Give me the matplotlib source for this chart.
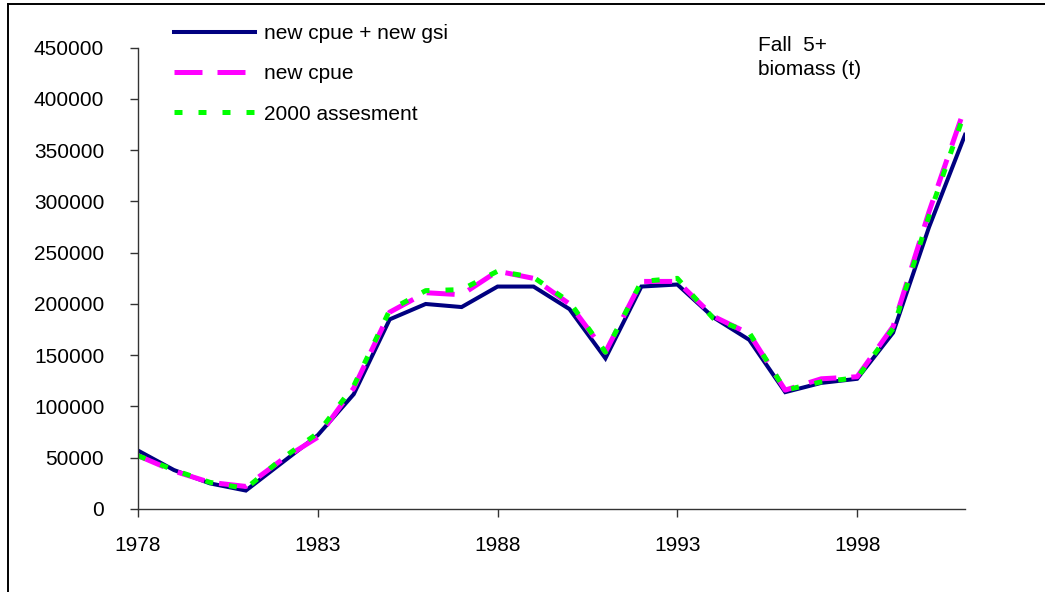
import numpy as np
import matplotlib.pyplot as plt
from matplotlib.lines import Line2D

plt.rcParams['font.family'] = ['Liberation Sans', 'DejaVu Sans']

# --- data ---
years = np.arange(1978, 2002)
new_cpue_gsi = [57000, 38000, 25000, 18000, 45000, 72000, 112000, 185000,
                200000, 197000, 217000, 217000, 195000, 147000, 217000, 219000,
                187000, 165000, 114000, 123000, 127000, 172000, 275000, 365000]
new_cpue = [52000, 37000, 26000, 22000, 48000, 70000, 118000, 192000,
            211000, 209000, 232000, 225000, 200000, 153000, 222000, 222000,
            188000, 171000, 116000, 127000, 129000, 178000, 290000, 392000]
assess_2000 = [52000, 38000, 26000, 20000, 49000, 74000, 120000, 194000,
               213000, 214000, 232000, 226000, 202000, 153000, 222000, 225000,
               186000, 172000, 116000, 124000, 128000, 176000, 286000, 388000]
xticks = [1978, 1983, 1988, 1993, 1998]
yticks = np.arange(0, 450001, 50000)

W, H = 1045, 592
fig = plt.figure(figsize=(W / 100, H / 100), dpi=100)
ax = fig.add_axes([138 / W, 1 - 509 / H, (965 - 138) / W, (509 - 47.7) / H])

ax.plot(years, new_cpue_gsi, color='#000080', lw=2.9, label='new cpue + new gsi',
        solid_joinstyle='miter')
ax.plot(years, new_cpue, color='#ff00ff', lw=3.6, dashes=(5.6, 3.0),
        dash_capstyle='butt', label='new cpue')
ax.plot(years, assess_2000, color='#00ff00', lw=3.6, dashes=(1.6, 3.2),
        dash_capstyle='butt', label='2000 assesment')

ax.set_xlim(1978, 2001)
ax.set_ylim(0, 450000)
ax.set_xticks(xticks)
ax.set_yticks(yticks)
ax.set_yticklabels([str(v) for v in yticks])

for s in ['top', 'right']:
    ax.spines[s].set_visible(False)
for s in ['left', 'bottom']:
    ax.spines[s].set_color('#333333')
    ax.spines[s].set_linewidth(1.0)
ax.tick_params(axis='y', direction='out', length=5.8, width=1.0, color='#333333',
               labelsize=15, pad=18.5)
ax.tick_params(axis='x', direction='out', length=5.8, width=1.0, color='#333333',
               labelsize=15, pad=13.5)

leg = ax.legend(loc='upper left', bbox_to_anchor=(174 / W, 1 - 24 / H),
                bbox_transform=fig.transFigure, frameon=False, fontsize=15,
                handlelength=3.9, handletextpad=0.4, labelspacing=1.02,
                borderpad=0, borderaxespad=0)

fig.text(758 / W, 1 - 50.7 / H, 'Fall  5+', fontsize=15, va='baseline', ha='left')
fig.text(758 / W, 1 - 75 / H, 'biomass (t)', fontsize=15, va='baseline', ha='left')

# figure border
fig.add_artist(Line2D([7.5 / W, 7.5 / W], [0, 1 - 4 / H], color='black', lw=1.4,
                      transform=fig.transFigure))
fig.add_artist(Line2D([7.5 / W, 1], [1 - 4 / H, 1 - 4 / H], color='black', lw=1.4,
                      transform=fig.transFigure))

plt.savefig('out.png', dpi=100)
